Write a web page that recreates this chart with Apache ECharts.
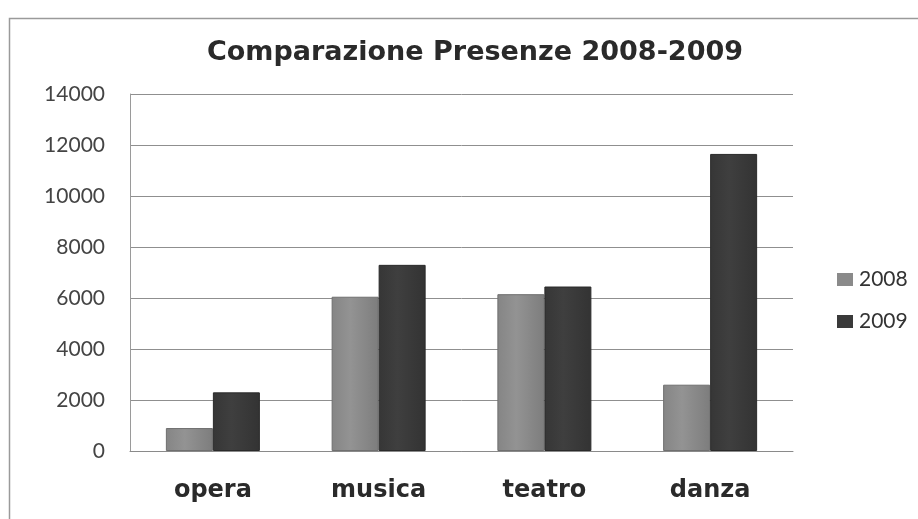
<!DOCTYPE html>
<html>
<head>
<meta charset="utf-8">
<script src="https://cdn.jsdelivr.net/npm/echarts@6/dist/echarts.min.js"></script>
<style>
  html, body { margin: 0; padding: 0; background: #fff; }
  #chart { width: 918px; height: 519px; }
</style>
</head>
<body>
<div id="chart"></div>
<script>
// Presenze per genere di spettacolo
const categories = ['opera', 'musica', 'teatro', 'danza'];
const presenze2008 = [900, 6050, 6150, 2600];
const presenze2009 = [2300, 7300, 6450, 11650];
const yTicks = { min: 0, max: 14000, step: 2000 };

const chart = echarts.init(document.getElementById('chart'));

function barFill(left, mid, right) {
  return new echarts.graphic.LinearGradient(0, 0, 1, 0, [
    { offset: 0, color: left },
    { offset: 0.4, color: mid },
    { offset: 1, color: right }
  ]);
}

chart.setOption({
  backgroundColor: '#ffffff',
  animation: false,
  title: {
    text: 'Comparazione Presenze 2008-2009',
    left: 470,
    top: 34,
    textAlign: 'center',
    textStyle: {
      fontFamily: 'DejaVu Sans',
      fontWeight: 'bold',
      fontSize: 27,
      color: '#2a2a2a'
    }
  },
  legend: {
    orient: 'vertical',
    left: 832,
    top: 264,
    itemWidth: 16,
    itemHeight: 13,
    itemGap: 21,
    itemStyle: { borderWidth: 0 },
    icon: 'rect',
    textStyle: { fontFamily: 'Lato', fontSize: 21, color: '#333', padding: [0, 0, 0, 1] },
    data: [
      { name: '2008', itemStyle: { color: '#8a8a8a' } },
      { name: '2009', itemStyle: { color: '#3a3a3a' } }
    ]
  },
  grid: { left: 130, right: 125, top: 94, bottom: 68 },
  xAxis: {
    type: 'category',
    data: categories,
    axisTick: { show: false },
    axisLine: { lineStyle: { color: '#8a8a8a', width: 1 } },
    axisLabel: {
      margin: 28,
      fontFamily: 'DejaVu Sans',
      fontWeight: 'bold',
      fontSize: 24,
      color: '#2a2a2a'
    }
  },
  yAxis: {
    type: 'value',
    min: yTicks.min,
    max: yTicks.max,
    interval: yTicks.step,
    axisLine: { show: true, lineStyle: { color: '#9a9a9a' } },
    axisTick: { show: false },
    splitLine: { lineStyle: { color: '#8f8f8f', width: 1 } },
    axisLabel: {
      margin: 25,
      fontFamily: 'Lato',
      fontSize: 21,
      color: '#444',
      formatter: (v) => String(v)
    }
  },
  series: [
    {
      name: '2008',
      type: 'bar',
      data: presenze2008,
      barWidth: 47,
      barGap: '0%',
      itemStyle: {
        color: barFill('#858585', '#939393', '#7d7d7d'),
        borderColor: '#6f6f6f',
        borderWidth: 1
      }
    },
    {
      name: '2009',
      type: 'bar',
      data: presenze2009,
      barWidth: 47,
      itemStyle: {
        color: barFill('#363636', '#3f3f3f', '#333333'),
        borderColor: '#2a2a2a',
        borderWidth: 1
      }
    }
  ],
  graphic: [
    {
      type: 'rect',
      left: 7,
      top: 16,
      shape: { width: 930, height: 520 },
      style: { fill: 'none', stroke: '#9a9a9a', lineWidth: 1.5 },
      silent: true
    }
  ]
});
</script>
</body>
</html>
